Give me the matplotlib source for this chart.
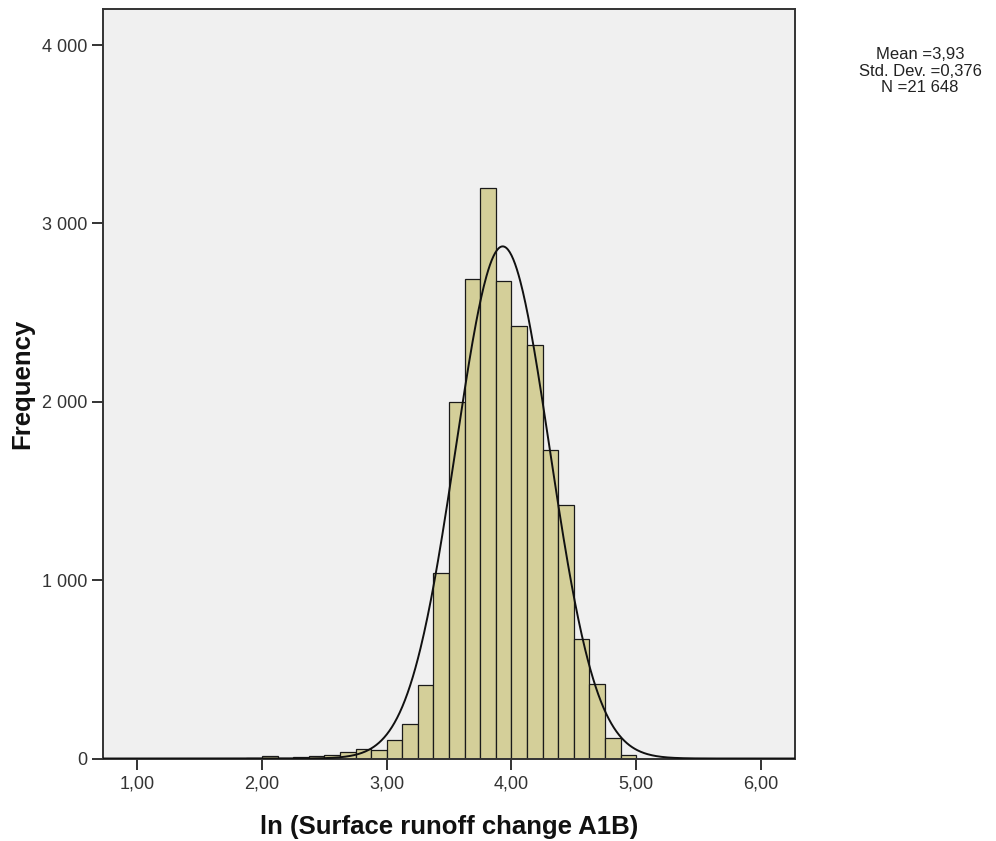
import numpy as np
import matplotlib
matplotlib.use("Agg")
import matplotlib.pyplot as plt
from matplotlib.ticker import FuncFormatter

plt.rcParams['font.family'] = ['Liberation Sans', 'DejaVu Sans']

# Histogram bins (width 0.125) and their frequencies
bin_width = 0.125
bin_left_edges = [1.875, 2.000, 2.125, 2.250, 2.375, 2.500, 2.625, 2.750, 2.875,
                  3.000, 3.125, 3.250, 3.375, 3.500, 3.625, 3.750, 3.875,
                  4.000, 4.125, 4.250, 4.375, 4.500, 4.625, 4.750, 4.875]
frequencies = [3, 12, 4, 8, 12, 20, 37, 54, 46,
               103, 196, 411, 1039, 1999, 2689, 3197, 2679,
               2423, 2321, 1728, 1424, 671, 415, 114, 22]

mean_val = 3.93
std_val = 0.376
n_total = 21648

x_ticks = [1, 2, 3, 4, 5, 6]
y_ticks = [0, 1000, 2000, 3000, 4000]

W, H = 996, 841
left, right, top, bottom = 102.5, 795, 9, 758.5

fig = plt.figure(figsize=(W / 100, H / 100), dpi=100)
ax = fig.add_axes([left / W, 1 - bottom / H, (right - left) / W, (bottom - top) / H])
ax.set_facecolor('#F0F0F0')

ax.bar(bin_left_edges, frequencies, width=bin_width, align='edge',
       color='#D4CF99', edgecolor='#1a1a1a', linewidth=0.9, zorder=2)

# Fitted normal curve scaled to counts
xmin, xmax = 0.721, 6.274
xs = np.linspace(xmin, xmax, 800)
ys = n_total * bin_width / (std_val * np.sqrt(2 * np.pi)) * np.exp(-0.5 * ((xs - mean_val) / std_val) ** 2)
ax.plot(xs, ys, color='#111111', linewidth=1.4, zorder=3)

ax.set_xlim(xmin, xmax)
ax.set_ylim(0, 4202)
ax.set_xticks(x_ticks)
ax.set_yticks(y_ticks)
ax.xaxis.set_major_formatter(FuncFormatter(lambda v, p: f"{v:.2f}".replace('.', ',')))
ax.yaxis.set_major_formatter(FuncFormatter(lambda v, p: f"{int(v):,}".replace(',', ' ')))
ax.tick_params(direction='out', length=8, width=1.4, labelsize=13, colors='#333333')
ax.tick_params(axis='x', pad=4.5)
ax.tick_params(axis='y', pad=3)

for s in ax.spines.values():
    s.set_color('#333333')
    s.set_linewidth(1.4)

ax.set_xlabel('ln (Surface runoff change A1B)', fontsize=18.5, fontweight='bold', color='#111111')
ax.set_ylabel('Frequency', fontsize=18.5, fontweight='bold', color='#111111')
ax.xaxis.set_label_coords(0.5, (bottom - 827) / (bottom - top))
ax.xaxis.label.set_va('center')
ax.yaxis.set_label_coords((22 - left) / (right - left), 0.5)
ax.yaxis.label.set_va('center')

stats = ['Mean =3,93', 'Std. Dev. =0,376', 'N =21 648']
for txt, yp in zip(stats, [54.5, 71, 88]):
    fig.text(920 / W, 1 - yp / H, txt, ha='center', va='center', fontsize=12, color='#222222')

fig.savefig('out.png', dpi=100, facecolor='white')
